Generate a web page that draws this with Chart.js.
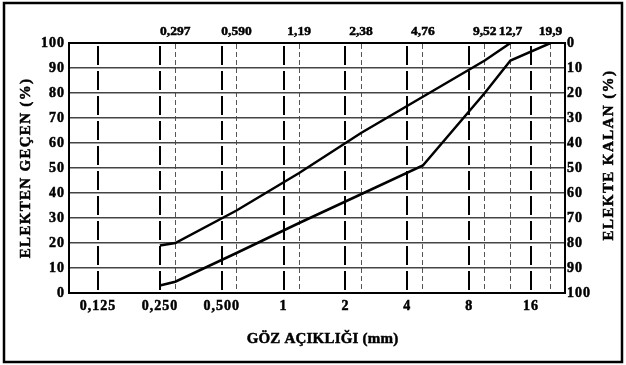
<!DOCTYPE html>
<html>
<head>
<meta charset="utf-8">
<script src="https://cdn.jsdelivr.net/npm/chart.js@4"></script>
<style>
html,body{margin:0;padding:0;background:#fff}
#wrap{width:626px;height:365px;position:relative}
</style>
</head>
<body>
<div id="wrap"><canvas id="c"></canvas></div>
<script>
// ---- data ----
const sieveSizes = [0.25, 0.297, 0.59, 1.19, 2.38, 4.76, 9.52, 12.7, 19.9];
const finePassing = [19, 20, 33, 48, 64, 78.5, 93, 100, null];
const coarsePassing = [3, 4.5, 16, 28, 39.5, 51, 80, 93, 100];

const bottomTicks = [0.125, 0.25, 0.5, 1, 2, 4, 8, 16];
const bottomTickLabels = ['0,125', '0,250', '0,500', '1', '2', '4', '8', '16'];
const topTicks = [0.297, 0.590, 1.19, 2.38, 4.76, 9.52, 12.7, 19.9];
const topTickLabels = ['0,297', '0,590', '1,19', '2,38', '4,76', '9,52', '12,7', '19,9'];

const xMin = 0.0903;
const xMax = 23.4;

const leftTitle = 'ELEKTEN GEÇEN (%)';
const rightTitle = 'ELEKTE KALAN (%)';
const bottomTitle = 'GÖZ AÇIKLIĞI (mm)';

// ---- styling ----
const FONT = '"Liberation Serif", "Times New Roman", serif';
const tickFont = {family: FONT, size: 14, weight: 'bold'};
const topTickFont = {family: FONT, size: 13.5, weight: 'bold'};
const titleFont = {family: FONT, size: 15, weight: 'bold'};

// draw an axis title (text taken from the scale's title option) with letter spacing
function patchTitle(scale, spacing, place) {
  if (scale._patchedTitle) return;
  scale._patchedTitle = true;
  scale.drawTitle = function () {
    const ctx = this.ctx;
    const p = place(this);
    ctx.save();
    ctx.letterSpacing = spacing;
    ctx.font = 'bold 15px ' + FONT;
    ctx.fillStyle = '#000';
    ctx.strokeStyle = '#000';
    ctx.lineWidth = 0.5;
    ctx.textAlign = 'center';
    ctx.textBaseline = 'middle';
    ctx.translate(p.x, p.y);
    ctx.rotate(p.rot);
    ctx.strokeText(this.options.title.text, 0, 0);
    ctx.fillText(this.options.title.text, 0, 0);
    ctx.restore();
  };
}
function patchLabels(scale, spacing) {
  if (scale._patchedLabels) return;
  scale._patchedLabels = true;
  const orig = scale.drawLabels;
  scale.drawLabels = function (area) {
    const ctx = this.ctx;
    ctx.save();
    ctx.letterSpacing = spacing;
    orig.call(this, area);
    ctx.restore();
  };
}

const framePlugin = {
  id: 'frame',
  beforeDraw(chart) {
    chart.ctx.letterSpacing = '1px';
  },
  afterDraw(chart) {
    const ctx = chart.ctx;
    ctx.save();
    ctx.lineWidth = 2.5;
    ctx.strokeStyle = '#000';
    ctx.strokeRect(4, 3, 618, 359);
    ctx.restore();
  }
};

const lineStyle = {
  borderColor: '#000',
  backgroundColor: '#000',
  borderWidth: 2.5,
  pointRadius: 0,
  pointHoverRadius: 0,
  fill: false,
  tension: 0,
  xAxisID: 'x',
  yAxisID: 'y'
};

const tickCommon = {color: '#000', font: tickFont, textStrokeColor: '#000', textStrokeWidth: 0.5};

new Chart(document.getElementById('c'), {
  type: 'line',
  data: {
    datasets: [
      Object.assign({label: 'fine', data: sieveSizes.map((s, i) => ({x: s, y: finePassing[i]}))}, lineStyle),
      Object.assign({label: 'coarse', data: sieveSizes.map((s, i) => ({x: s, y: coarsePassing[i]}))}, lineStyle)
    ]
  },
  options: {
    responsive: true,
    maintainAspectRatio: false,
    animation: false,
    devicePixelRatio: 1,
    layout: {padding: 0},
    plugins: {legend: {display: false}, tooltip: {enabled: false}},
    scales: {
      x: {
        type: 'logarithmic',
        position: 'bottom',
        min: xMin,
        max: xMax,
        afterBuildTicks: (s) => { s.ticks = bottomTicks.map(v => ({value: v})); },
        afterFit: (s) => {
          s.height = 72;
          patchTitle(s, '0.2px', (sc) => ({x: (sc.left + sc.right) / 2 + 5.5, y: sc.bottom - 26.3, rot: 0}));
        },
        ticks: Object.assign({autoSkip: false, maxRotation: 0, padding: 5, callback: (v, i) => bottomTickLabels[i]}, tickCommon),
        grid: {color: '#000', lineWidth: 2, drawTicks: false},
        border: {display: true, color: '#000', width: 2, dash: [19, 6], dashOffset: 22},
        title: {display: true, text: bottomTitle, color: '#000', font: titleFont}
      },
      xTop: {
        type: 'logarithmic',
        position: 'top',
        min: xMin,
        max: xMax,
        afterBuildTicks: (s) => { s.ticks = topTicks.map(v => ({value: v})); },
        afterFit: (s) => { s.height = 43; patchLabels(s, '0px'); },
        ticks: Object.assign({}, tickCommon, {font: topTickFont, autoSkip: false, maxRotation: 0, padding: 3, callback: (v, i) => topTickLabels[i]}),
        grid: {color: '#555', lineWidth: 1, drawTicks: false},
        border: {display: true, color: '#000', width: 2, dash: [5, 3], dashOffset: 0}
      },
      y: {
        type: 'linear',
        position: 'left',
        min: 0,
        max: 100,
        afterFit: (s) => {
          s.width = 69;
          patchTitle(s, '1.3px', (sc) => ({x: sc.left + 26.5, y: (sc.top + sc.bottom) / 2, rot: -Math.PI / 2}));
        },
        ticks: Object.assign({stepSize: 10, padding: 4}, tickCommon),
        grid: {color: '#444', lineWidth: 1.5, drawTicks: false},
        border: {display: true, color: '#000', width: 2},
        title: {display: true, text: leftTitle, color: '#000', font: titleFont}
      },
      y2: {
        type: 'linear',
        position: 'right',
        reverse: true,
        min: 0,
        max: 100,
        afterFit: (s) => {
          s.width = 61;
          patchTitle(s, '1.4px', (sc) => ({x: sc.right - 16.5, y: (sc.top + sc.bottom) / 2 - 13, rot: -Math.PI / 2}));
        },
        ticks: Object.assign({stepSize: 10, padding: 2}, tickCommon),
        grid: {display: false, drawOnChartArea: false, drawTicks: false},
        border: {display: true, color: '#000', width: 2},
        title: {display: true, text: rightTitle, color: '#000', font: titleFont}
      }
    }
  },
  plugins: [framePlugin]
});
</script>
</body>
</html>
